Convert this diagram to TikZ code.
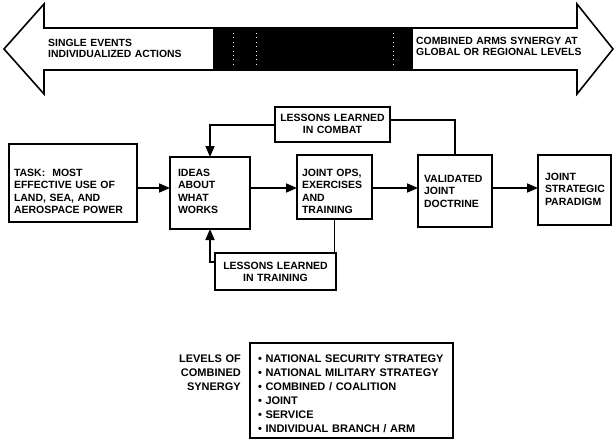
\documentclass[tikz,border=0pt]{standalone}
\usepackage{fontspec}
\setmainfont{Liberation Sans}
\usetikzlibrary{arrows.meta}
\hyphenpenalty=10000
\exhyphenpenalty=10000
\begin{document}
\begin{tikzpicture}[x=1pt,y=-1pt,
  every node/.style={font=\bfseries\fontsize{10.5}{12.5}\selectfont},
  box/.style={draw, line width=1.6pt, inner ysep=0pt, outer sep=0pt,
              anchor=north west, align=left},
  cbox/.style={box, align=center},
  conn/.style={line width=1.6pt},
  arr/.style={-{Triangle[length=11pt,width=9pt]}},
  bandtext/.style={anchor=base west, inner sep=0pt, align=left,
                   font=\bfseries\fontsize{10.4}{11}\selectfont},
  legend/.style={font=\bfseries\fontsize{11}{14}\selectfont}]
\useasboundingbox (0,0) rectangle (615,444);

% double-headed band across the top
\draw[line width=1.6pt, line join=miter]
  (4,49) -- (44,4) -- (44,28) -- (577,28) -- (577,4) -- (613,49)
  -- (577,94) -- (577,70) -- (44,70) -- (44,94) -- cycle;
\fill[black] (213,28) rectangle (413,70);
\foreach \xx in {233,256,393}
  \draw[white, loosely dotted, line width=0.4pt] (\xx,33) -- (\xx,66);
\node[bandtext, text width=200pt] (single) at (48,46)
  {SINGLE EVENTS\\INDIVIDUALIZED ACTIONS};
\node[bandtext, text width=200pt] (combined) at (416,45)
  {COMBINED ARMS SYNERGY AT\\GLOBAL OR REGIONAL LEVELS};

% flow boxes
\node[cbox, inner xsep=5pt, text width=105pt, text height=14pt, text depth=21pt]
  (combat) at (275,107) {LESSONS LEARNED\\IN COMBAT};
\node[box, inner xsep=5pt, text width=118pt, text height=32pt, text depth=46pt]
  (task) at (9,144) {TASK:\ \ MOST\\EFFECTIVE USE OF\\LAND, SEA, AND\\AEROSPACE POWER};
\node[box, inner xsep=8pt, text width=64pt, text height=19pt, text depth=53pt]
  (ideas) at (170,157) {IDEAS\\ABOUT\\WHAT\\WORKS};
\node[box, inner xsep=5pt, text width=65pt, text height=21pt, text depth=43pt]
  (jointops) at (297,155) {JOINT OPS,\\EXERCISES\\AND\\TRAINING};
\node[box, inner xsep=6pt, text width=62pt, text height=27pt, text depth=45pt]
  (validated) at (418,155) {VALIDATED\\JOINT\\DOCTRINE};
\node[box, inner xsep=7pt, text width=59pt, text height=25pt, text depth=45pt]
  (paradigm) at (538,155) {JOINT\\STRATEGIC\\PARADIGM};
\node[cbox, inner xsep=5pt, text width=111pt, text height=16pt, text depth=21pt]
  (training) at (215,253) {LESSONS LEARNED\\IN TRAINING};

% connectors
\coordinate (row) at (0,188);
\coordinate (cl) at (0,125);
\coordinate (cr) at (0,120);
\coordinate (tl) at (0,262);
\draw[conn, arr] (task.east |- row) -- (ideas.west |- row);
\draw[conn, arr] (ideas.east |- row) -- (jointops.west |- row);
\draw[conn, arr] (jointops.east |- row) -- (validated.west |- row);
\draw[conn, arr] (validated.east |- row) -- (paradigm.west |- row);
\draw[conn, arr] (combat.west |- cl) -- (ideas.north |- cl) -- (ideas.north);
\draw[conn] (combat.east |- cr) -- (validated.north |- cr) -- (validated.north);
\draw[conn] (jointops.south) -- (jointops.south |- training.north);
\draw[conn, arr] (training.west |- tl) -- (ideas.south |- tl) -- (ideas.south);

% legend
\node[legend, anchor=base east, inner sep=0pt, text width=80pt, align=right]
  (levels) at (241,362) {LEVELS OF\\COMBINED\\SYNERGY};
\node[box, legend, inner xsep=8pt, text width=187pt, text height=19pt, text depth=76pt]
  (list) at (250,343)
  {• NATIONAL SECURITY STRATEGY\\• NATIONAL MILITARY STRATEGY\\• COMBINED / COALITION\\• JOINT\\• SERVICE\\• INDIVIDUAL BRANCH / ARM};
\end{tikzpicture}
\end{document}
